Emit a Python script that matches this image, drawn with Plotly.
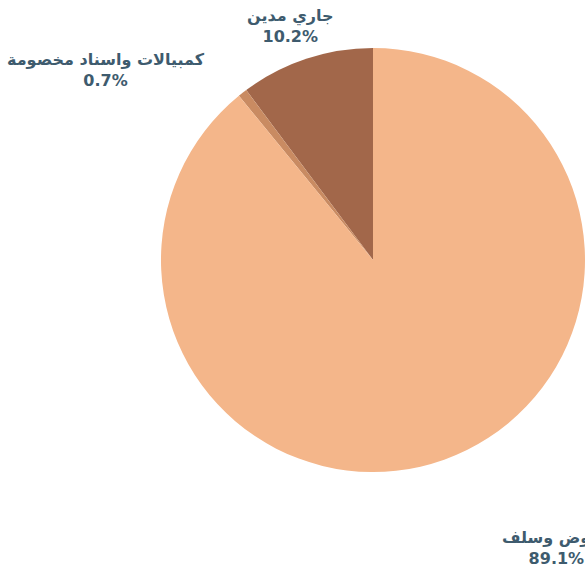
import plotly.graph_objects as go

labels = ["جاري مدين", "كمبيالات واسناد مخصومة", "قروض وسلف"]
values = [10.2, 0.7, 89.1]
colors = ["#A2674A", "#C98B62", "#F4B68A"]

# label anchor positions (paper coords)
label_x = [0.497, 0.181, 0.952]
label_y = [0.954, 0.878, 0.048]

total = sum(values)

fig = go.Figure(go.Pie(
    labels=labels,
    values=values,
    marker=dict(colors=colors, line=dict(width=0)),
    sort=False,
    direction="counterclockwise",
    # make the first slice start at 12 o'clock and run counter-clockwise
    rotation=-values[0] / total * 360,
    textinfo="none",
    hoverinfo="label+percent",
    domain=dict(x=[0.2752, 1.0], y=[0.1788, 0.9184]),
    showlegend=False,
))

for lab, v, x, y in zip(labels, values, label_x, label_y):
    fig.add_annotation(
        x=x, y=y, xref="paper", yref="paper",
        text=f"<b>{lab}</b><br><b>{v / total * 100:.1f}%</b>",
        showarrow=False, xanchor="center", yanchor="middle",
        font=dict(family="DejaVu Sans", size=16, color="#3E5B6E"),
        align="center",
    )

fig.update_layout(
    width=585, height=576,
    margin=dict(l=0, r=0, t=0, b=0),
    paper_bgcolor="white", plot_bgcolor="white",
)

fig.write_html(
    "out.html",
    config={"displayModeBar": False},
    post_script="document.body.style.margin='0';document.body.style.overflow='hidden';",
)
